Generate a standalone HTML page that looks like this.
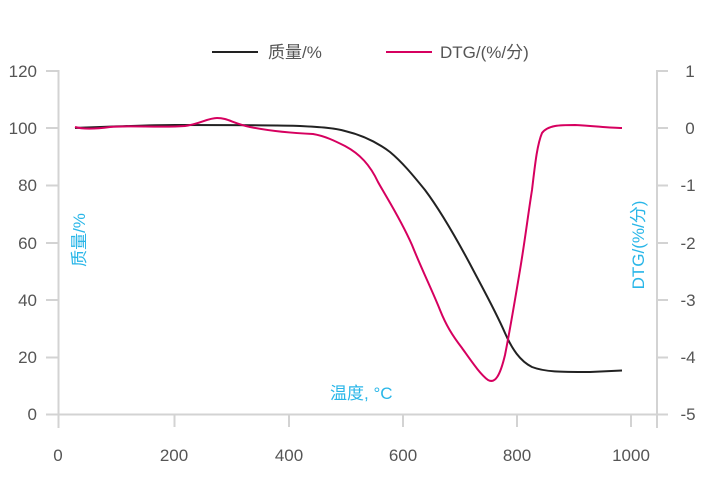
<!DOCTYPE html>
<html><head><meta charset="utf-8"><style>
body{margin:0;background:#fff;}
svg text{font-family:"Liberation Sans","Noto Sans CJK SC",sans-serif;}
</style></head><body>
<svg width="712" height="489" xmlns="http://www.w3.org/2000/svg">
<g stroke="#d3d3d3" stroke-width="2" fill="none">
<line x1="58.5" y1="70" x2="58.5" y2="428"/>
<line x1="46" y1="414.5" x2="657" y2="414.5"/>
<line x1="657" y1="70" x2="657" y2="428"/>
<line x1="46" y1="71" x2="58" y2="71"/><line x1="46" y1="128" x2="58" y2="128"/><line x1="46" y1="185.5" x2="58" y2="185.5"/><line x1="46" y1="243" x2="58" y2="243"/><line x1="46" y1="300" x2="58" y2="300"/><line x1="46" y1="357.5" x2="58" y2="357.5"/>
<line x1="657" y1="71" x2="668" y2="71"/><line x1="657" y1="128" x2="668" y2="128"/><line x1="657" y1="185.5" x2="668" y2="185.5"/><line x1="657" y1="243" x2="668" y2="243"/><line x1="657" y1="300" x2="668" y2="300"/><line x1="657" y1="357.5" x2="668" y2="357.5"/><line x1="657" y1="414.5" x2="668" y2="414.5"/>
<line x1="174.5" y1="414" x2="174.5" y2="427"/><line x1="289" y1="414" x2="289" y2="427"/><line x1="403" y1="414" x2="403" y2="427"/><line x1="517" y1="414" x2="517" y2="427"/><line x1="631" y1="414" x2="631" y2="427"/>
</g>
<g fill="#555" font-size="17">
<g text-anchor="end"><text x="37" y="77">120</text><text x="37" y="134">100</text><text x="37" y="191">80</text><text x="37" y="249">60</text><text x="37" y="306">40</text><text x="37" y="363">20</text><text x="37" y="420">0</text></g>
<g text-anchor="middle"><text x="58" y="461">0</text><text x="174" y="461">200</text><text x="289" y="461">400</text><text x="403" y="461">600</text><text x="517" y="461">800</text><text x="631" y="461">1000</text>
<text x="690" y="77">1</text><text x="690" y="134">0</text><text x="688" y="191">-1</text><text x="688" y="249">-2</text><text x="688" y="306">-3</text><text x="688" y="363">-4</text><text x="688" y="420">-5</text></g>
<text x="268" y="58">质量/%</text><text x="440" y="58">DTG/(%/分)</text>
</g>
<line x1="212" y1="52" x2="258" y2="52" stroke="#222" stroke-width="2"/>
<line x1="386" y1="52" x2="432" y2="52" stroke="#d6005f" stroke-width="2"/>
<g fill="#29b6e8" font-size="17">
<text x="330" y="399">温度, °C</text>
<text transform="translate(85,240) rotate(-90)" text-anchor="middle">质量/%</text>
<text transform="translate(644,245) rotate(-90)" text-anchor="middle">DTG/(%/分)</text>
</g>
<path d="M75,128 C100,127 150,125 175,125 S280,125 300,126 C320,127 335,128 345,131 C362,135 378,143 390,152 C402,162 412,174 425,190 C440,210 455,236 470,264 C482,287 495,310 505,333 C512,349 520,361 532,367 C545,372 560,372 590,372 L622,370.5" fill="none" stroke="#222" stroke-width="2"/>
<path d="M75,127 C82,129 95,129 110,127 C130,125 160,128 185,126 C200,124 208,118 217,118 C228,118 232,123 250,127 C270,131 290,133 313,134 C325,136 335,141 345,146 C360,154 370,165 378,182 C388,200 400,218 412,245 C422,270 432,290 440,310 C446,325 452,335 462,348 C472,362 480,374 488,380 C495,384 500,376 505,355 C510,330 515,300 520,270 C525,240 528,215 532,190 C535,165 537,145 542,133 C548,125 560,125 575,125 C595,126 610,128 622,128" fill="none" stroke="#d6005f" stroke-width="2"/>
</svg>
</body></html>
